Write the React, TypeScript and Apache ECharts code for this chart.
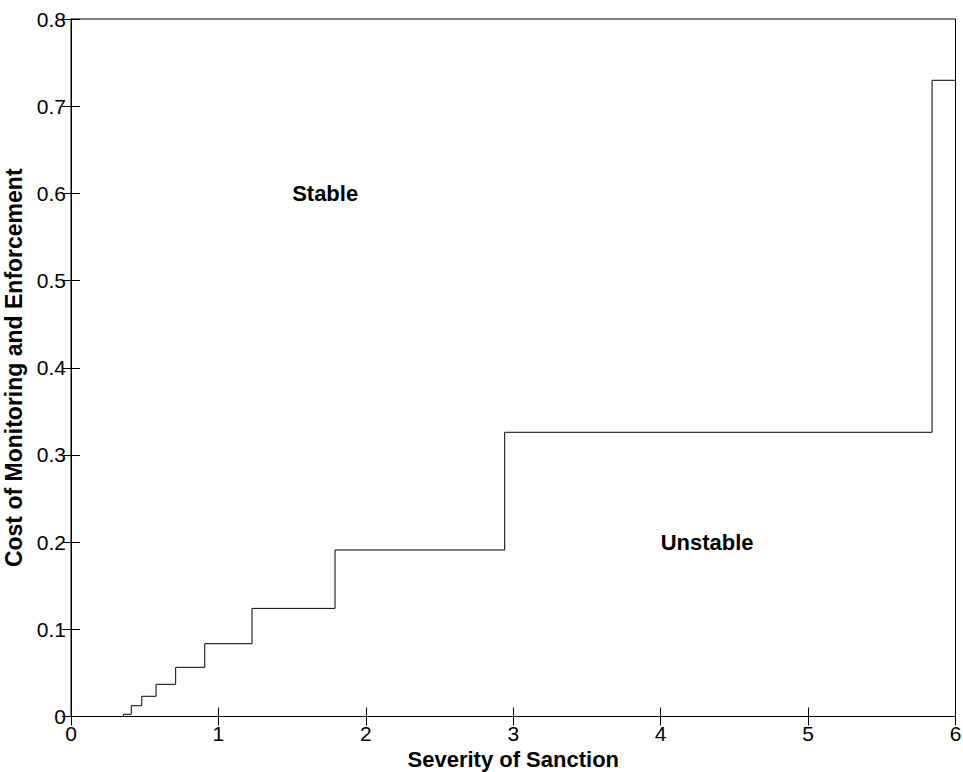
import React, { useEffect, useRef } from "react";
import * as echarts from "echarts";

// Step boundary (severity of sanction) and the cost level that holds from it on
const stepX = [0, 0.355, 0.409, 0.48, 0.577, 0.71, 0.907, 1.228, 1.791, 2.942, 5.841, 6];
const stepY = [0, 0.0025, 0.0124, 0.0232, 0.0369, 0.0564, 0.0835, 0.124, 0.191, 0.326, 0.7297, 0.7297];

const regionLabels = ["Stable", "Unstable"];
const regionX = [1.5, 4];
const regionY = [0.6, 0.2];

const xTitle = "Severity of Sanction";
const yTitle = "Cost of Monitoring and Enforcement";

const FONT = "'Liberation Sans', Arial, Helvetica, sans-serif";

export default function App() {
  const ref = useRef<HTMLDivElement>(null);

  useEffect(() => {
    if (!ref.current) return;
    const chart = echarts.init(ref.current, null, { renderer: "svg" });

    const lineData = stepX.map((x, i) => [x, stepY[i]]);
    const labelData = regionLabels.map((t, i) => [regionX[i], regionY[i], t]);

    const axisLine = { show: true, lineStyle: { color: "#000", width: 1 } };
    const axisTick = { show: true, inside: true, length: 9, lineStyle: { color: "#000", width: 1 } };

    chart.setOption({
      animation: false,
      backgroundColor: "#fff",
      grid: {
        left: 71,
        top: 19,
        width: 884.5,
        height: 697.5,
        containLabel: false,
        outerBoundsMode: "none",
        show: true,
        borderColor: "#000",
        borderWidth: 1,
        backgroundColor: "transparent",
      },
      xAxis: [
        {
          type: "value",
          min: 0,
          max: 6,
          interval: 1,
          position: "bottom",
          axisLine,
          axisTick,
          splitLine: { show: false },
          axisLabel: { color: "#000", fontSize: 21, fontFamily: FONT, margin: 6 },
          name: xTitle,
          nameLocation: "middle",
          nameGap: 30,
          nameTextStyle: { color: "#000", fontSize: 22, fontWeight: "bold", fontFamily: FONT },
        },
        {
          type: "value",
          min: 0,
          max: 6,
          interval: 1,
          position: "top",
          axisLine,
          axisTick,
          splitLine: { show: false },
          axisLabel: { show: false },
        },
      ],
      yAxis: [
        {
          type: "value",
          min: 0,
          max: 0.8,
          interval: 0.1,
          position: "left",
          axisLine,
          axisTick,
          splitLine: { show: false },
          axisLabel: { color: "#000", fontSize: 21, fontFamily: FONT, margin: 5 },
          name: yTitle,
          nameLocation: "middle",
          nameGap: 39,
          nameTextStyle: { color: "#000", fontSize: 23, fontWeight: "bold", fontFamily: FONT },
        },
        {
          type: "value",
          min: 0,
          max: 0.8,
          interval: 0.1,
          position: "right",
          axisLine,
          axisTick,
          splitLine: { show: false },
          axisLabel: { show: false },
        },
      ],
      series: [
        {
          type: "line",
          step: "end",
          data: lineData,
          showSymbol: false,
          symbol: "none",
          lineStyle: { color: "#000", width: 1 },
          xAxisIndex: 0,
          yAxisIndex: 0,
          z: 3,
        },
        {
          type: "scatter",
          data: labelData,
          symbolSize: 0,
          itemStyle: { opacity: 1 },
          xAxisIndex: 0,
          yAxisIndex: 0,
          label: {
            show: true,
            position: "right",
            distance: 0,
            formatter: (p: any) => p.value[2],
            color: "#000",
            opacity: 1,
            fontSize: 22,
            fontWeight: "bold",
            fontFamily: FONT,
          },
        },
      ],
    });

    return () => chart.dispose();
  }, []);

  return (
    <div
      ref={ref}
      style={{ position: "fixed", left: 0, top: 0, width: 963, height: 772, background: "#fff" }}
    />
  );
}
